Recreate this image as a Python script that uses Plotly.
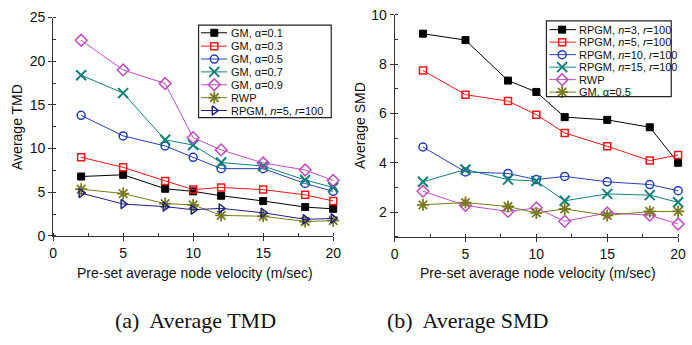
import plotly.graph_objects as go

W, H = 692, 345

velocity = [2, 5, 8, 10, 12, 15, 18, 20]

# (a) Average TMD
tmd_gm01 = [6.8, 7.0, 5.4, 5.1, 4.6, 4.0, 3.3, 3.1]
tmd_gm03 = [9.0, 7.85, 6.3, 5.3, 5.55, 5.3, 4.7, 4.0]
tmd_gm05 = [13.8, 11.45, 10.3, 9.0, 7.7, 7.7, 6.0, 5.1]
tmd_gm07 = [18.4, 16.35, 11.0, 10.4, 8.4, 8.0, 6.4, 5.55]
tmd_gm09 = [22.4, 19.0, 17.45, 11.25, 9.85, 8.35, 7.55, 6.35]
tmd_rwp = [5.35, 4.85, 3.7, 3.55, 2.35, 2.25, 1.65, 1.75]
tmd_rpgm5 = [4.9, 3.65, 3.35, 3.0, 3.15, 2.65, 1.9, 2.0]

# (b) Average SMD
smd_rpgm3 = [9.23, 8.97, 7.33, 6.87, 5.85, 5.74, 5.44, 4.0]
smd_rpgm5 = [7.74, 6.76, 6.5, 5.95, 5.21, 4.67, 4.09, 4.32]
smd_rpgm10 = [4.64, 3.63, 3.57, 3.32, 3.45, 3.23, 3.12, 2.87]
smd_rpgm15 = [3.23, 3.73, 3.32, 3.26, 2.46, 2.74, 2.69, 2.40]
smd_rwp = [2.85, 2.27, 2.03, 2.17, 1.63, 1.97, 1.88, 1.52]
smd_gm05 = [2.3, 2.39, 2.23, 1.97, 2.13, 1.87, 2.03, 2.03]

labels_a = ["GM, α=0.1", "GM, α=0.3", "GM, α=0.5", "GM, α=0.7", "GM, α=0.9",
            "RWP", "RPGM, <i>n</i>=5, <i>r</i>=100"]
labels_b = ["RPGM, <i>n</i>=3, <i>r</i>=100", "RPGM, <i>n</i>=5, <i>r</i>=100",
            "RPGM, <i>n</i>=10, <i>r</i>=100", "RPGM, <i>n</i>=15, <i>r</i>=100",
            "RWP", "GM, α=0.5"]

BLACK = "#000000"
RED = "#f01818"
BLUE = "#2440b0"
TEAL = "#10807a"
MAG = "#c04cc0"
OLIVE = "#7a7a1e"
NAVY = "#202080"

sty = {
    "sq": dict(symbol="square", size=7, color=BLACK, line=dict(width=1, color=BLACK)),
    "sqo": dict(symbol="square-open", size=7, color=RED, line=dict(width=1.5, color=RED)),
    "ci": dict(symbol="circle-open", size=8, color=BLUE, line=dict(width=1.5, color=BLUE)),
    "x": dict(symbol="x-thin-open", size=10, color=TEAL, line=dict(width=2, color=TEAL)),
    "di": dict(symbol="diamond-open", size=9, color=MAG, line=dict(width=1.5, color=MAG)),
    "ast": dict(symbol="asterisk-open", size=10, color=OLIVE, line=dict(width=1.8, color=OLIVE)),
    "tri": dict(symbol="triangle-right-open", size=8, color=NAVY, line=dict(width=1.5, color=NAVY)),
}

series_a = [(tmd_gm01, "sq", BLACK), (tmd_gm03, "sqo", RED), (tmd_gm05, "ci", BLUE),
            (tmd_gm07, "x", TEAL), (tmd_gm09, "di", MAG), (tmd_rwp, "ast", OLIVE),
            (tmd_rpgm5, "tri", NAVY)]
series_b = [(smd_rpgm3, "sq", BLACK), (smd_rpgm5, "sqo", RED), (smd_rpgm10, "ci", BLUE),
            (smd_rpgm15, "x", TEAL), (smd_rwp, "di", MAG), (smd_gm05, "ast", OLIVE)]

fig = go.Figure()

for ys, m, c in series_a:
    fig.add_trace(go.Scatter(x=velocity, y=ys, mode="lines+markers", xaxis="x", yaxis="y",
                             line=dict(color=c, width=1), marker=sty[m], cliponaxis=False,
                             showlegend=False))
for ys, m, c in series_b:
    fig.add_trace(go.Scatter(x=velocity, y=ys, mode="lines+markers", xaxis="x2", yaxis="y2",
                             line=dict(color=c, width=1), marker=sty[m], cliponaxis=False,
                             showlegend=False))

# ---- manual legends (pixel-coordinate overlay axis) ----
def add_legend(box, rows_y, line_x, text_x, labels, series):
    x0, y0, x1, y1 = box
    fig.add_shape(type="rect", xref="x5", yref="y5", x0=x0, x1=x1, y0=y0, y1=y1,
                  line=dict(color="#222222", width=1.2), fillcolor="rgba(0,0,0,0)",
                  layer="above")
    for ry, lab, (ys, m, c) in zip(rows_y, labels, series):
        fig.add_trace(go.Scatter(x=[line_x[0], line_x[2]], y=[ry, ry], mode="lines",
                                 xaxis="x5", yaxis="y5", line=dict(color=c, width=1),
                                 showlegend=False, hoverinfo="skip", cliponaxis=False))
        fig.add_trace(go.Scatter(x=[line_x[1]], y=[ry], mode="markers", xaxis="x5", yaxis="y5",
                                 marker=sty[m], showlegend=False, hoverinfo="skip",
                                 cliponaxis=False))
        fig.add_annotation(x=text_x, y=ry, xref="x5", yref="y5", text=lab, showarrow=False,
                           xanchor="left", yanchor="middle",
                           font=dict(family="Liberation Sans", size=11, color="#111111"))

add_legend((198, 18, 333, 115), [26, 40, 53.5, 67, 80.5, 94, 107.5],
           (200.5, 214, 227), 229, labels_a, series_a)
add_legend((552, 13.5, 679, 93), [22.7, 35.8, 48.9, 62, 75.1, 88.2],
           (555, 568, 582), 583, labels_b, series_b)

tickfont = dict(family="Liberation Sans", size=14, color="#111111")
axcol = "#333333"

def main_x(dom):
    return dict(domain=dom, range=[0, 20], tick0=0, dtick=5, ticks="outside", ticklen=4,
                tickcolor=axcol, showline=True, linecolor=axcol, linewidth=1.2,
                showgrid=False, zeroline=False, tickfont=tickfont,
                minor=dict(dtick=2.5, ticks="inside", ticklen=3, tickcolor=axcol, showgrid=False))

def main_y(dom, rng, dt, mdt):
    return dict(domain=dom, range=rng, tick0=0, dtick=dt, ticks="outside", ticklen=4,
                tickcolor=axcol, showline=True, linecolor=axcol, linewidth=1.2,
                showgrid=False, zeroline=False, tickfont=tickfont,
                minor=dict(dtick=mdt, ticks="inside", ticklen=3, tickcolor=axcol, showgrid=False))

def mirror_x(over, anchor, dom):
    return dict(overlaying=over, anchor=anchor, side="top", domain=dom, range=[0, 20], tick0=0,
                dtick=5, ticks="inside", ticklen=4, tickcolor=axcol, showline=True,
                linecolor=axcol, linewidth=1.2, showticklabels=False, showgrid=False,
                zeroline=False,
                minor=dict(dtick=2.5, ticks="inside", ticklen=3, tickcolor=axcol, showgrid=False))

def mirror_y(over, anchor, dom, rng, dt, mdt):
    return dict(overlaying=over, anchor=anchor, side="right", domain=dom, range=rng, tick0=0,
                dtick=dt, ticks="inside", ticklen=4, tickcolor=axcol, showline=True,
                linecolor=axcol, linewidth=1.2, showticklabels=False, showgrid=False,
                zeroline=False,
                minor=dict(dtick=mdt, ticks="inside", ticklen=3, tickcolor=axcol, showgrid=False))

xdA = [50 / W, 335 / W]
ydA = [1 - 239 / H, 1 - 10 / H]
xdB = [397.5 / W, 686 / W]
ydB = [1 - 240 / H, 1 - 7 / H]

fig.update_layout(
    width=W, height=H, margin=dict(l=0, r=0, t=0, b=0),
    paper_bgcolor="white", plot_bgcolor="rgba(0,0,0,0)",
    xaxis=dict(main_x(xdA), anchor="y"),
    yaxis=dict(main_y(ydA, [0, 25], 5, 2.5), anchor="x"),
    xaxis2=dict(main_x(xdB), anchor="y2"),
    yaxis2=dict(main_y(ydB, [1, 10], 2, 1), anchor="x2"),
    xaxis3=mirror_x("x", "y", xdA),
    yaxis3=mirror_y("y", "x", ydA, [0, 25], 5, 2.5),
    xaxis4=mirror_x("x2", "y2", xdB),
    yaxis4=mirror_y("y2", "x2", ydB, [1, 10], 2, 1),
    xaxis5=dict(domain=[0, 1], range=[0, W], visible=False, anchor="y5"),
    yaxis5=dict(domain=[0, 1], range=[H, 0], visible=False, anchor="x5"),
)

titlefont = dict(family="Liberation Sans", size=14, color="#111111")
fig.add_annotation(text="Pre-set average node velocity (m/sec)", x=194, y=278, xref="x5",
                   yref="y5", showarrow=False, font=titlefont)
fig.add_annotation(text="Pre-set average node velocity (m/sec)", x=543, y=278, xref="x5",
                   yref="y5", showarrow=False, font=titlefont)
fig.add_annotation(text="Average TMD", x=13, y=125, xref="x5", yref="y5", textangle=-90,
                   showarrow=False, font=titlefont)
fig.add_annotation(text="Average SMD", x=363, y=123, xref="x5", yref="y5", textangle=-90,
                   showarrow=False, font=titlefont)

capfont = dict(family="Liberation Serif", size=22, color="#111111")
fig.add_annotation(text="(a)  Average TMD", x=195, y=328, xref="x5", yref="y5",
                   showarrow=False, font=capfont)
fig.add_annotation(text="(b)  Average SMD", x=472, y=328, xref="x5", yref="y5",
                   showarrow=False, font=capfont)

fig.write_html("out.html")
